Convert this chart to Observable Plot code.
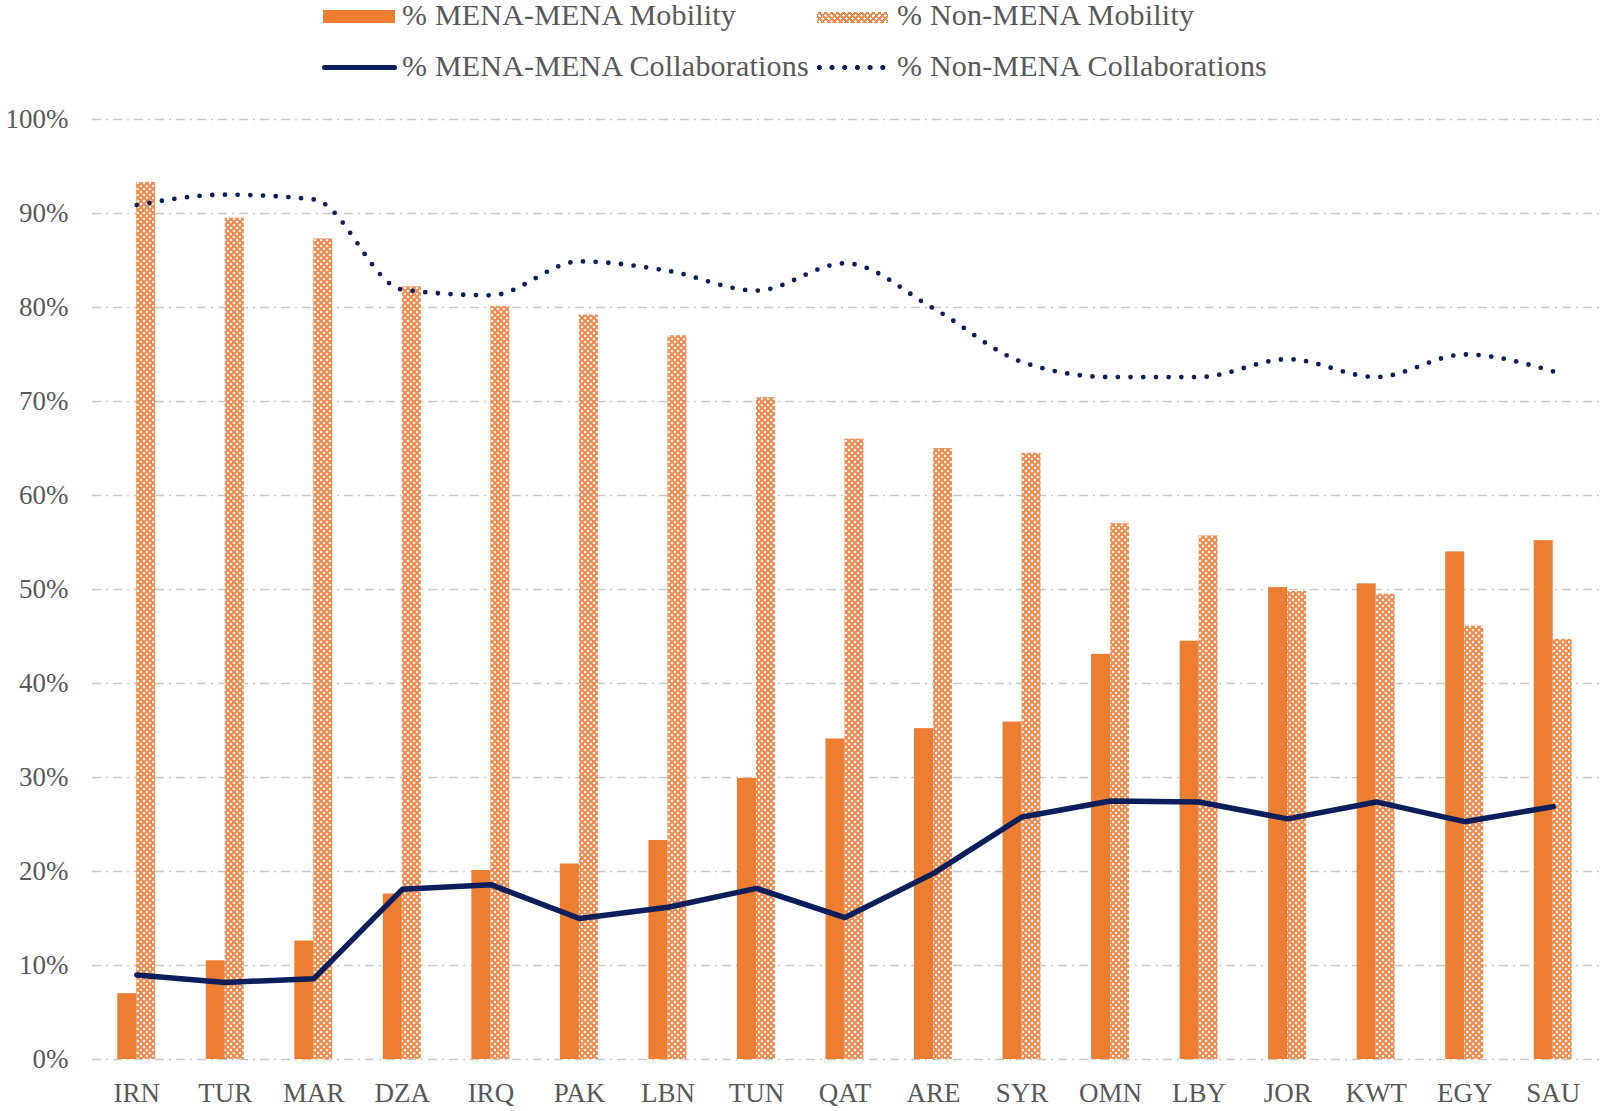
<!DOCTYPE html>
<html>
<head>
<meta charset="utf-8">
<script src="https://cdn.jsdelivr.net/npm/d3@7"></script>
<script src="https://cdn.jsdelivr.net/npm/@observablehq/plot@0.6"></script>
<style>
  body { margin: 0; background: white; }
  #wrap { position: relative; width: 1603px; height: 1111px; background: white; font-family: "Liberation Serif", "Times New Roman", serif; color: #595959; }
  #legend { position: relative; width: 1603px; height: 90px; }
  #legend .t { position: absolute; font-size: 30px; line-height: 30px; letter-spacing: 0.2px; white-space: nowrap; }
  #legend .sw { position: absolute; }
  #chart svg { display: block; }
</style>
</head>
<body>
<div id="wrap">
  <div id="legend">
    <div class="sw" style="left:323px;top:10px;width:72px;height:13px;background:#ED7D31;"></div>
    <div class="t" style="left:402px;top:0px;">% MENA-MENA Mobility</div>
    <div class="sw" style="left:817px;top:12px;width:71px;height:11px;background-color:#fff;background-image:repeating-linear-gradient(45deg,#ef8a4e 0 1.8px,transparent 1.8px 4.2px),repeating-linear-gradient(-45deg,#ef8a4e 0 1.8px,transparent 1.8px 4.2px);"></div>
    <div class="t" style="left:897px;top:0px;">% Non-MENA Mobility</div>
    <div class="sw" style="left:322px;top:65px;width:75px;height:5px;border-radius:3px;background:#0b1f5c;"></div>
    <div class="t" style="left:402px;top:51px;">% MENA-MENA Collaborations</div>
    <div class="sw" style="left:813px;top:64px;width:76px;height:7px;background-image:radial-gradient(circle,#0b1f5c 2.2px,transparent 2.7px);background-size:12.7px 7px;"></div>
    <div class="t" style="left:897px;top:51px;">% Non-MENA Collaborations</div>
  </div>
  <div id="chart"></div>
</div>
<script>
const countries = ["IRN","TUR","MAR","DZA","IRQ","PAK","LBN","TUN","QAT","ARE","SYR","OMN","LBY","JOR","KWT","EGY","SAU"];
const menaMobility = [7.0, 10.5, 12.6, 17.6, 20.1, 20.8, 23.3, 29.9, 34.1, 35.2, 35.9, 43.1, 44.5, 50.2, 50.6, 54.0, 55.2];
const nonMenaMobility = [93.3, 89.5, 87.3, 82.2, 80.1, 79.2, 77.0, 70.4, 66.0, 65.0, 64.5, 57.0, 55.7, 49.8, 49.5, 46.1, 44.7];
const menaCollab = [9.0, 8.2, 8.6, 18.1, 18.6, 15.0, 16.2, 18.2, 15.1, 19.8, 25.8, 27.5, 27.4, 25.6, 27.4, 25.3, 26.9];
const nonMenaCollab = [90.9, 92.0, 91.5, 81.9, 81.3, 84.9, 83.9, 81.8, 84.7, 79.9, 74.2, 72.6, 72.6, 74.5, 72.6, 75.0, 73.2];
const yTicks = [0, 0.1, 0.2, 0.3, 0.4, 0.5, 0.6, 0.7, 0.8, 0.9, 1.0];

const data = countries.map((c, i) => ({
  country: c,
  mm: menaMobility[i] / 100,
  nm: nonMenaMobility[i] / 100,
  mc: menaCollab[i] / 100,
  nc: nonMenaCollab[i] / 100
}));

const W = 1603, H = 1021, ML = 92, MR = 6;
const step = (W - ML - MR) / countries.length;
const barW = 19;
const half = step / 2;

const navy = "#0b1f5c";
const chart = Plot.plot({
  width: W,
  height: H,
  marginLeft: ML,
  marginRight: MR,
  marginTop: 29,
  marginBottom: 52,
  style: { fontFamily: "'Liberation Serif', 'Times New Roman', serif", fontSize: "27px", color: "#595959", background: "white", overflow: "visible" },
  x: { domain: countries, padding: 0, round: false, label: null },
  y: { domain: [0, 1], label: null },
  marks: [
    Plot.ruleY(yTicks, { stroke: "#c8c8c8", strokeWidth: 1.4, strokeDasharray: "9,5,2,5", insetRight: -MR }),
    Plot.barY(data, { x: "country", y: "mm", fill: "#ED7D31", insetLeft: half - barW, insetRight: half }),
    Plot.barY(data, { x: "country", y: "nm", fill: "url(#hatch)", insetLeft: half, insetRight: half - barW }),
    Plot.line(data, { x: "country", y: "mc", stroke: navy, strokeWidth: 5.5, strokeLinejoin: "round", strokeLinecap: "round" }),
    Plot.line(data, { x: "country", y: "nc", stroke: navy, strokeWidth: 4.8, strokeDasharray: "0,12.7", strokeLinecap: "round", curve: "monotone-x" }),
    Plot.axisX({ tickSize: 0, tickPadding: 23, fontSize: 27, label: null }),
    Plot.axisY({ ticks: yTicks, tickSize: 0, tickPadding: 24, fontSize: 27, tickFormat: d3.format(".0%"), label: null })
  ]
});

d3.select(chart).insert("defs", ":first-child").html(
  '<pattern id="hatch" patternUnits="userSpaceOnUse" width="6" height="6">' +
  '<rect width="6" height="6" fill="#ffffff"/>' +
  '<path d="M-1,-1 L7,7 M7,-1 L-1,7" stroke="#ef8a4e" stroke-width="2.1"/>' +
  '</pattern>'
);

document.getElementById("chart").appendChild(chart);
</script>
</body>
</html>
